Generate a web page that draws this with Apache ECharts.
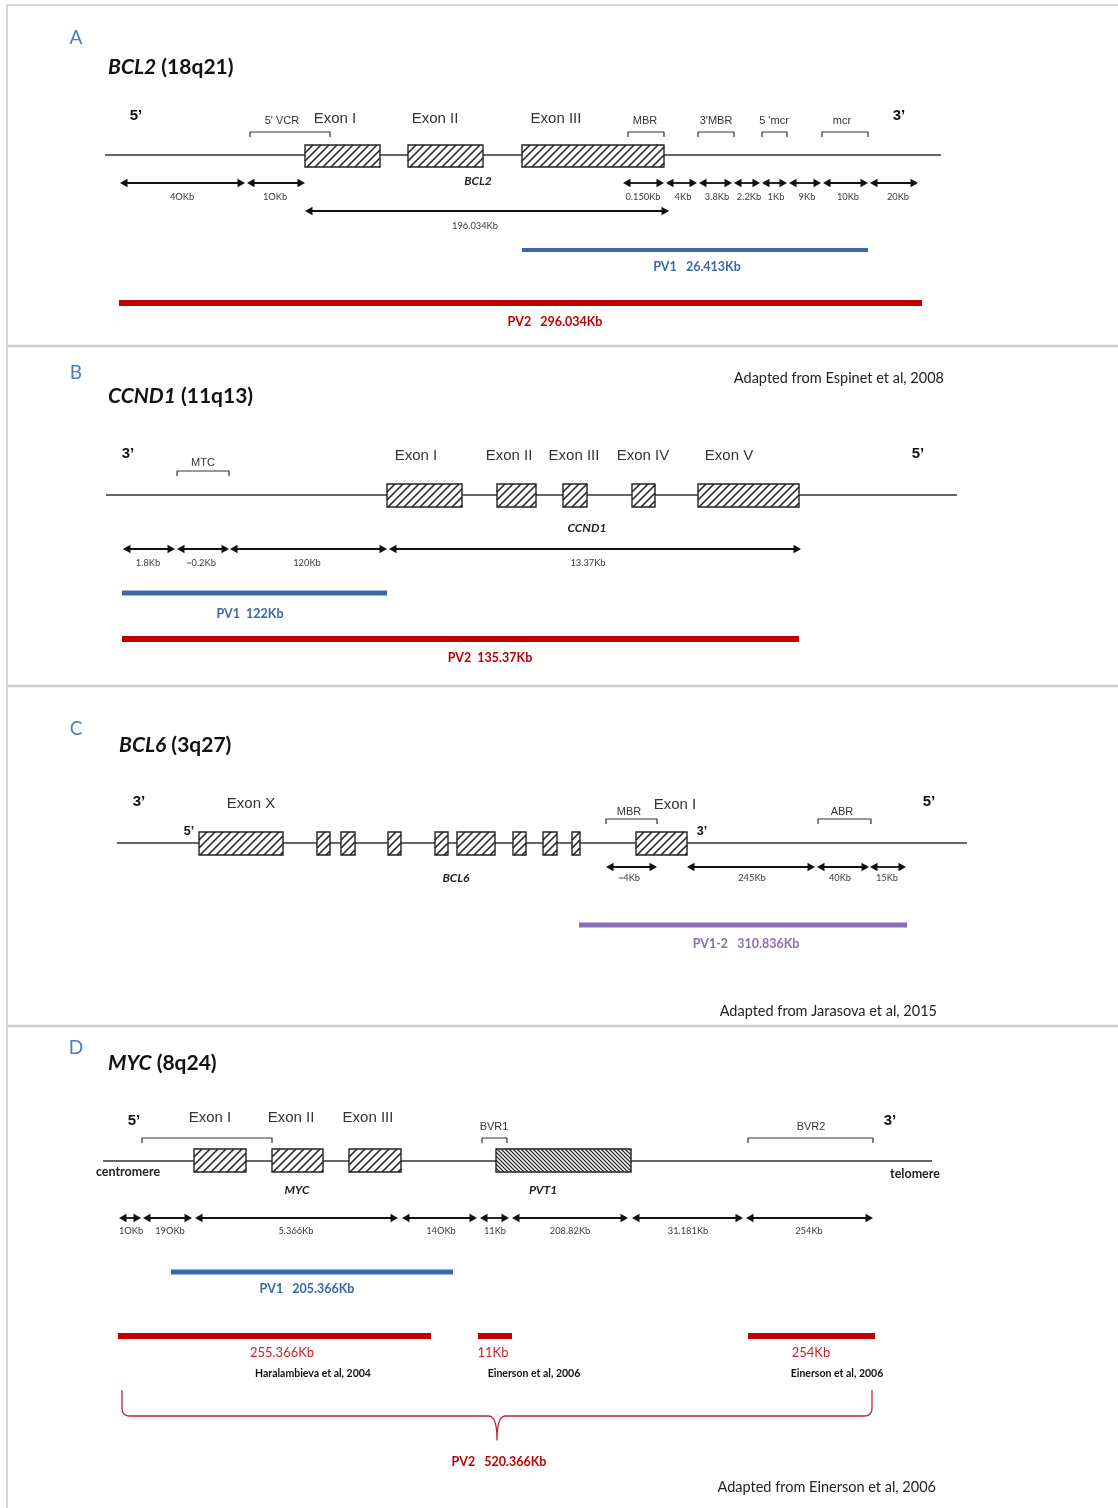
<!DOCTYPE html>
<html>
<head>
<meta charset="utf-8">
<script src="https://cdn.jsdelivr.net/npm/echarts@6/dist/echarts.min.js"></script>
<style>
  html, body { margin: 0; padding: 0; background: #fff; }
  #chart { width: 1118px; height: 1508px; }
</style>
</head>
<body>
<div id="chart"></div>
<script>
// Breakpoint-region schematics of four lymphoma genes.
// All positions are in a schematic layout unit along each chromosome line.

// ---------- A: BCL2 (18q21) ----------
const bcl2Exons = [[305, 380], [408, 483], [522, 664]];
const bcl2ExonNames = ['Exon I', 'Exon II', 'Exon III'];
const bcl2ExonLabelX = [335, 435, 556];
const bcl2Regions = [[250, 330], [628, 664], [698, 734], [762, 787], [822, 868]];
const bcl2RegionNames = ["5' VCR", 'MBR', "3'MBR", "5 'mcr", 'mcr'];
const bcl2RegionLabelX = [282, 645, 716, 774, 842];
const bcl2Spans = [[120, 245], [247, 305], [623, 664], [666, 697], [699, 732], [734, 760], [762, 787], [789, 821], [823, 868], [870, 918]];
const bcl2SpanLabels = ['4OKb', '1OKb', '0.150Kb', '4Kb', '3.8Kb', '2.2Kb', '1Kb', '9Kb', '10Kb', '20Kb'];
const bcl2SpanLabelX = [182, 275, 643, 683, 717, 749, 776, 807, 848, 898];
const bcl2GeneSpan = [305, 669];
const bcl2GeneSpanLabel = '196.034Kb';
const bcl2Pv1 = [522, 868];
const bcl2Pv2 = [119, 922];
const bcl2PvLabels = ['PV1   26.413Kb', 'PV2   296.034Kb'];

// ---------- B: CCND1 (11q13) ----------
const ccnd1Exons = [[387, 462], [497, 536], [563, 587], [632, 655], [698, 799]];
const ccnd1ExonNames = ['Exon I', 'Exon II', 'Exon III', 'Exon IV', 'Exon V'];
const ccnd1ExonLabelX = [416, 509, 574, 643, 729];
const ccnd1Regions = [[177, 229]];
const ccnd1RegionNames = ['MTC'];
const ccnd1RegionLabelX = [203];
const ccnd1Spans = [[123, 175], [177, 229], [230, 387], [389, 801]];
const ccnd1SpanLabels = ['1.8Kb', '~0.2Kb', '120Kb', '13.37Kb'];
const ccnd1SpanLabelX = [148, 201, 307, 588];
const ccnd1Pv1 = [122, 387];
const ccnd1Pv2 = [122, 799];
const ccnd1PvLabels = ['PV1  122Kb', 'PV2  135.37Kb'];

// ---------- C: BCL6 (3q27) ----------
const bcl6Exons = [[199, 283], [317, 330], [341, 355], [388, 401], [435, 448], [457, 495], [513, 526], [543, 557], [572, 580], [636, 687]];
const bcl6Regions = [[606, 657], [818, 871]];
const bcl6RegionNames = ['MBR', 'ABR'];
const bcl6RegionLabelX = [629, 842];
const bcl6Spans = [[606, 657], [687, 815], [817, 869], [870, 906]];
const bcl6SpanLabels = ['~4Kb', '245Kb', '40Kb', '15Kb'];
const bcl6SpanLabelX = [629, 752, 840, 887];
const bcl6Pv = [579, 907];
const bcl6PvLabel = 'PV1-2   310.836Kb';

// ---------- D: MYC (8q24) ----------
const mycExons = [[194, 246], [272, 323], [349, 401]];
const mycExonNames = ['Exon I', 'Exon II', 'Exon III'];
const mycExonLabelX = [210, 291, 368];
const pvt1Block = [496, 631];
const mycRegions = [[142, 272], [482, 507], [748, 873]];
const mycRegionNames = ['', 'BVR1', 'BVR2'];
const mycRegionLabelX = [207, 494, 811];
const mycSpans = [[119, 141], [143, 192], [195, 398], [402, 477], [480, 509], [512, 628], [632, 743], [746, 873]];
const mycSpanLabels = ['1OKb', '19OKb', '5.366Kb', '14OKb', '11Kb', '208.82Kb', '31.181Kb', '254Kb'];
const mycSpanLabelX = [131, 170, 296, 441, 495, 570, 688, 809];
const mycPv1 = [171, 453];
const mycPv1Label = 'PV1   205.366Kb';
const mycPv2Parts = [[118, 431], [478, 512], [748, 875]];
const mycPv2PartLabels = ['255.366Kb', '11Kb', '254Kb'];
const mycPv2PartLabelX = [282, 493, 811];
const mycPv2Sources = ['Haralambieva et al, 2004', 'Einerson et al, 2006', 'Einerson et al, 2006'];
const mycPv2SourceX = [313, 534, 837];
const mycPv2Label = 'PV2   520.366Kb';

// ---------- drawing helpers ----------
const SANS = '"Liberation Sans", Arial, sans-serif';
const CAL = 'Lato, "Open Sans", sans-serif';
const BLUE = '#3c68aa', RED = '#c00000', PURPLE = '#8a6fb4';

const lineItems = [], exonItems = [], arrowItems = [], textItems = [];
function addLine(pts, color, width) { lineItems.push({ pts, color, width }); }
function addText(x, y, text, o) { textItems.push(Object.assign({ x, y, text }, o)); }

const ST = {
  letter: { family: CAL, size: 19, color: '#4a7ebb' },
  prime: { family: SANS, size: 15, weight: 'bold', color: '#111' },
  primeSm: { family: SANS, size: 12.5, weight: 'bold', color: '#111' },
  exon: { family: SANS, size: 15, color: '#333' },
  region: { family: SANS, size: 11, color: '#333' },
  gene: { family: CAL, size: 12, weight: 'bold', fstyle: 'italic', color: '#222' },
  kb: { family: CAL, size: 9.3, color: '#3a3a3a' },
  note: { family: CAL, size: 14.5, color: '#222', align: 'right' },
  cite: { family: CAL, size: 10.5, weight: 'bold', color: '#111' },
  end: { family: CAL, size: 12.5, weight: 'bold', color: '#222' }
};
function pv(color) { return { family: CAL, size: 12.5, weight: 'bold', color }; }

function title(x, y, gene, band) {
  addText(x, y, '{i|' + gene + '}{n| ' + band + '}', {
    family: CAL, size: 21, weight: 'bold', color: '#111', align: 'left',
    rich: {
      i: { fontFamily: CAL, fontSize: 21, fontWeight: 'bold', fontStyle: 'italic', fill: '#111' },
      n: { fontFamily: CAL, fontSize: 21, fontWeight: 'bold', fill: '#111' }
    }
  });
}
function exons(list, top, bottom, dir, gap) {
  list.forEach(e => exonItems.push({ x0: e[0], x1: e[1], y0: top, y1: bottom, dir, gap }));
}
function brackets(list, y, tick) {
  list.forEach(r => addLine([[r[0], y + tick], [r[0], y], [r[1], y], [r[1], y + tick]], '#333', 1.2));
}
function spans(list, y) { list.forEach(s => arrowItems.push({ x0: s[0], x1: s[1], y })); }
function labels(names, xs, y, style) { names.forEach((n, i) => { if (n) addText(xs[i], y, n, style); }); }
function quad(p0, c, p1, n) {
  const out = [];
  for (let k = 1; k <= n; k++) {
    const t = k / n, u = 1 - t;
    out.push([u * u * p0[0] + 2 * u * t * c[0] + t * t * p1[0], u * u * p0[1] + 2 * u * t * c[1] + t * t * p1[1]]);
  }
  return out;
}

// ---------- panel frames ----------
addLine([[7, 5], [1118, 5]], '#c8c8c8', 1.5);
addLine([[7, 5], [7, 1508]], '#c8c8c8', 1.5);
[346, 686, 1026].forEach(y => addLine([[7, y], [1118, y]], '#cccccc', 2.5));

// ---------- A ----------
addText(76, 38, 'A', ST.letter);
title(108, 67, 'BCL2', '(18q21)');
addText(136, 116, '5’', ST.prime);
addText(899, 116, '3’', ST.prime);
addLine([[105, 155], [941, 155]], '#333', 1.3);
exons(bcl2Exons, 145, 167, 1, 8);
labels(bcl2ExonNames, bcl2ExonLabelX, 119, ST.exon);
brackets(bcl2Regions, 132, 5);
labels(bcl2RegionNames, bcl2RegionLabelX, 121, ST.region);
addText(478, 181, 'BCL2', ST.gene);
spans(bcl2Spans, 183);
labels(bcl2SpanLabels, bcl2SpanLabelX, 197, ST.kb);
spans([bcl2GeneSpan], 211);
addText(475, 226, bcl2GeneSpanLabel, ST.kb);
addLine([[bcl2Pv1[0], 250], [bcl2Pv1[1], 250]], BLUE, 4);
addText(697, 267, bcl2PvLabels[0], pv(BLUE));
addLine([[bcl2Pv2[0], 303], [bcl2Pv2[1], 303]], RED, 6);
addText(555, 322, bcl2PvLabels[1], pv(RED));

// ---------- B ----------
addText(76, 373, 'B', ST.letter);
addText(944, 378, 'Adapted from Espinet et al, 2008', ST.note);
title(108, 396, 'CCND1', '(11q13)');
addText(128, 454, '3’', ST.prime);
addText(918, 454, '5’', ST.prime);
addLine([[106, 495], [957, 495]], '#333', 1.3);
exons(ccnd1Exons, 484, 507, 1, 8);
labels(ccnd1ExonNames, ccnd1ExonLabelX, 456, ST.exon);
brackets(ccnd1Regions, 471, 5);
labels(ccnd1RegionNames, ccnd1RegionLabelX, 463, ST.region);
addText(587, 528, 'CCND1', ST.gene);
spans(ccnd1Spans, 549);
labels(ccnd1SpanLabels, ccnd1SpanLabelX, 563, ST.kb);
addLine([[ccnd1Pv1[0], 593], [ccnd1Pv1[1], 593]], BLUE, 5);
addText(250, 614, ccnd1PvLabels[0], pv(BLUE));
addLine([[ccnd1Pv2[0], 639], [ccnd1Pv2[1], 639]], RED, 6);
addText(490, 658, ccnd1PvLabels[1], pv(RED));

// ---------- C ----------
addText(76, 729, 'C', ST.letter);
title(119, 745, 'BCL6', '(3q27)');
addText(139, 802, '3’', ST.prime);
addText(929, 802, '5’', ST.prime);
addText(251, 804, 'Exon X', ST.exon);
addText(675, 805, 'Exon I', ST.exon);
addText(189, 832, '5’', ST.primeSm);
addText(702, 832, '3’', ST.primeSm);
addLine([[117, 843], [967, 843]], '#333', 1.3);
exons(bcl6Exons, 832, 855, 1, 8);
brackets(bcl6Regions, 819, 5);
labels(bcl6RegionNames, bcl6RegionLabelX, 812, ST.region);
addText(456, 878, 'BCL6', ST.gene);
spans(bcl6Spans, 867);
labels(bcl6SpanLabels, bcl6SpanLabelX, 878, ST.kb);
addLine([[bcl6Pv[0], 925], [bcl6Pv[1], 925]], PURPLE, 5);
addText(746, 944, bcl6PvLabel, pv(PURPLE));
addText(937, 1011, 'Adapted from Jarasova et al, 2015', ST.note);

// ---------- D ----------
addText(76, 1048, 'D', ST.letter);
title(108, 1063, 'MYC', '(8q24)');
addText(134, 1121, '5’', ST.prime);
addText(890, 1121, '3’', ST.prime);
labels(mycExonNames, mycExonLabelX, 1118, ST.exon);
brackets(mycRegions, 1138, 5);
labels(mycRegionNames, mycRegionLabelX, 1127, ST.region);
addLine([[103, 1161], [932, 1161]], '#333', 1.3);
exons(mycExons, 1149, 1172, 1, 8);
exons([pvt1Block], 1149, 1172, -1, 4);
addText(128, 1172, 'centromere', ST.end);
addText(915, 1174, 'telomere', ST.end);
addText(297, 1190, 'MYC', ST.gene);
addText(543, 1190, 'PVT1', ST.gene);
spans(mycSpans, 1218);
labels(mycSpanLabels, mycSpanLabelX, 1231, ST.kb);
addLine([[mycPv1[0], 1272], [mycPv1[1], 1272]], BLUE, 5);
addText(307, 1289, mycPv1Label, pv(BLUE));
mycPv2Parts.forEach(p => addLine([[p[0], 1336], [p[1], 1336]], RED, 6));
labels(mycPv2PartLabels, mycPv2PartLabelX, 1353, { family: CAL, size: 13, color: '#c0272d' });
labels(mycPv2Sources, mycPv2SourceX, 1374, ST.cite);
// curly brace grouping the three PV2 segments
(function () {
  const L = 122, R = 872, M = 497, top = 1390, yb = 1416, tip = 1440;
  let pts = [[L, top], [L, yb - 8]];
  pts = pts.concat(quad([L, yb - 8], [L, yb], [L + 8, yb], 6));
  pts.push([M - 8, yb]);
  pts = pts.concat(quad([M - 8, yb], [M, yb], [M, tip], 6));
  pts = pts.concat(quad([M, tip], [M, yb], [M + 8, yb], 6));
  pts.push([R - 8, yb]);
  pts = pts.concat(quad([R - 8, yb], [R, yb], [R, yb - 8], 6));
  pts.push([R, top]);
  addLine(pts, '#c0272d', 1.3);
})();
addText(499, 1462, mycPv2Label, pv(RED));
addText(936, 1487, 'Adapted from Einerson et al, 2006', ST.note);

// ---------- renderers ----------
function renderLine(params, api) {
  const l = lineItems[api.value(2)];
  return {
    type: 'polyline',
    shape: { points: l.pts.map(p => api.coord(p)) },
    style: { stroke: l.color, lineWidth: l.width, fill: null, lineJoin: 'round', lineCap: 'butt' }
  };
}
function renderExon(params, api) {
  const e = exonItems[api.value(2)];
  const a = api.coord([e.x0, e.y0]), b = api.coord([e.x1, e.y1]);
  const x0 = a[0], y0 = a[1], x1 = b[0], y1 = b[1], h = y1 - y0;
  const kids = [{ type: 'rect', shape: { x: x0, y: y0, width: x1 - x0, height: h }, style: { fill: '#fff' } }];
  for (let c = x0 - h; c < x1; c += e.gap) {
    const t0 = Math.max(0, x0 - c), t1 = Math.min(h, x1 - c);
    if (t1 <= t0) continue;
    const ya = e.dir > 0 ? y1 - t0 : y0 + t0;
    const yb = e.dir > 0 ? y1 - t1 : y0 + t1;
    kids.push({ type: 'line', shape: { x1: c + t0, y1: ya, x2: c + t1, y2: yb },
      style: { stroke: '#222', lineWidth: e.gap > 5 ? 1.6 : 1.1 } });
  }
  kids.push({ type: 'rect', shape: { x: x0, y: y0, width: x1 - x0, height: h },
    style: { fill: null, stroke: '#222', lineWidth: 1.4 } });
  return { type: 'group', children: kids };
}
function renderArrow(params, api) {
  const s = arrowItems[api.value(2)];
  const a = api.coord([s.x0, s.y]), b = api.coord([s.x1, s.y]);
  const y = a[1], L = 7.5, hw = 4.2;
  return {
    type: 'group', children: [
      { type: 'line', shape: { x1: a[0] + L - 1, y1: y, x2: b[0] - L + 1, y2: y }, style: { stroke: '#111', lineWidth: 1.8 } },
      { type: 'polygon', shape: { points: [[a[0], y], [a[0] + L, y - hw], [a[0] + L, y + hw]] }, style: { fill: '#111' } },
      { type: 'polygon', shape: { points: [[b[0], y], [b[0] - L, y - hw], [b[0] - L, y + hw]] }, style: { fill: '#111' } }
    ]
  };
}
function renderText(params, api) {
  const t = textItems[api.value(2)];
  const p = api.coord([t.x, t.y]);
  const style = {
    text: t.text, fill: t.color, align: t.align || 'center', verticalAlign: 'middle',
    fontFamily: t.family, fontSize: t.size, fontWeight: t.weight || 'normal', fontStyle: t.fstyle || 'normal'
  };
  if (t.rich) style.rich = t.rich;
  return { type: 'text', x: p[0], y: p[1], style };
}

function customSeries(items, fn, key, z) {
  return {
    type: 'custom', silent: true, z, renderItem: fn,
    data: items.map((d, i) => [key(d)[0], key(d)[1], i]),
    encode: { x: 0, y: 1 }
  };
}

const chart = echarts.init(document.getElementById('chart'), null, { renderer: 'canvas' });
chart.setOption({
  backgroundColor: '#ffffff',
  animation: false,
  grid: { left: 0, right: 0, top: 0, bottom: 0 },
  xAxis: { type: 'value', min: 0, max: 1118, show: false },
  yAxis: { type: 'value', min: 0, max: 1508, inverse: true, show: false },
  series: [
    customSeries(lineItems, renderLine, d => d.pts[0], 1),
    customSeries(exonItems, renderExon, d => [d.x0, d.y0], 2),
    customSeries(arrowItems, renderArrow, d => [d.x0, d.y], 3),
    customSeries(textItems, renderText, d => [d.x, d.y], 4)
  ]
});
</script>
</body>
</html>
